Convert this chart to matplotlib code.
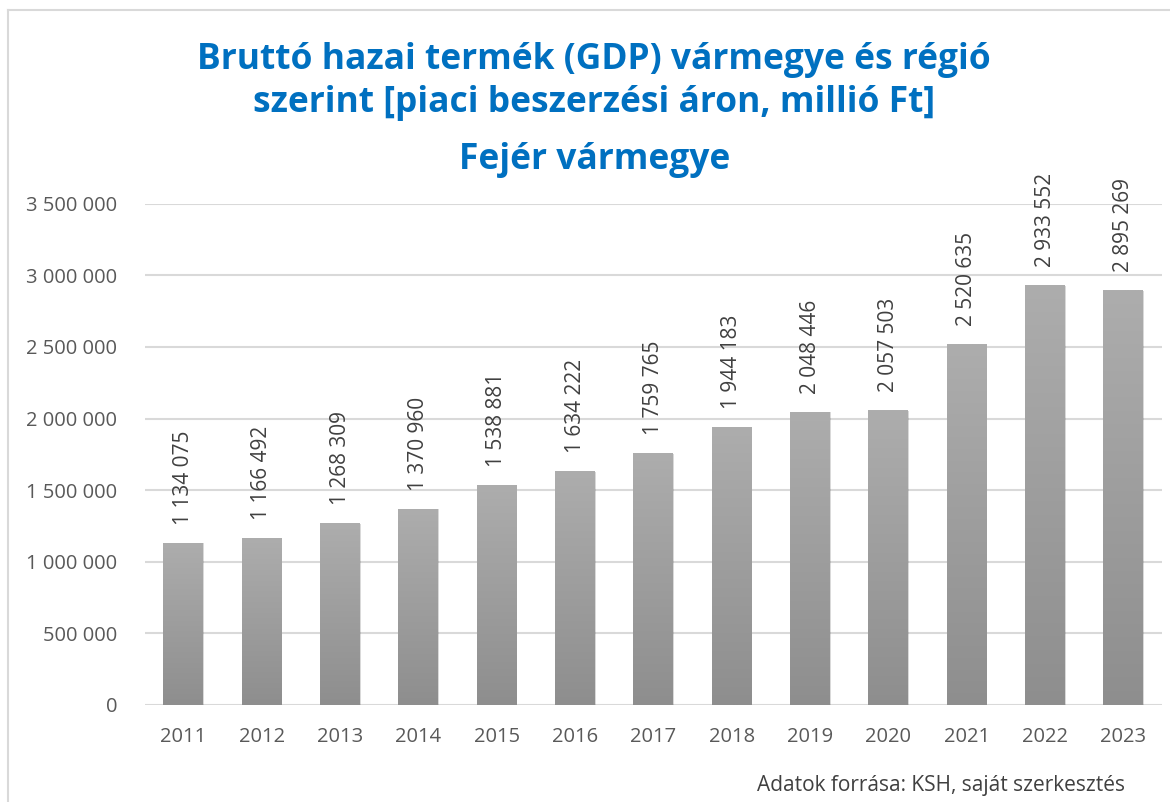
import matplotlib
matplotlib.use("Agg")
import matplotlib.pyplot as plt
import matplotlib.patheffects as pe
import numpy as np
from matplotlib.lines import Line2D

years = ['2011', '2012', '2013', '2014', '2015', '2016', '2017',
         '2018', '2019', '2020', '2021', '2022', '2023']
gdp = [1134075, 1166492, 1268309, 1370960, 1538881, 1634222, 1759765,
       1944183, 2048446, 2057503, 2520635, 2933552, 2895269]
yticks = [0, 500000, 1000000, 1500000, 2000000, 2500000, 3000000, 3500000]
title_lines = ['Bruttó hazai termék (GDP) vármegye és régió',
               'szerint [piaci beszerzési áron, millió Ft]',
               'Fejér vármegye']

def fmt(v):
    return f"{v:,}".replace(",", " ")

plt.rcParams['font.family'] = ['Open Sans', 'DejaVu Sans']

fig = plt.figure(figsize=(11.7, 8.02), dpi=100)
ax = fig.add_axes([0.124, 0.121, 0.869, 0.625])

x = np.arange(len(years))
bars = ax.bar(x, gdp, width=0.51, color='#9e9e9e', zorder=3,
              path_effects=[pe.SimplePatchShadow(offset=(0.5, -0.5), alpha=0.18), pe.Normal()])

# vertical gradient inside each bar
grad = np.linspace(0, 1, 256).reshape(-1, 1)
cmap = matplotlib.colors.LinearSegmentedColormap.from_list('g', ['#8e8e8e', '#adadad'])
for b in bars:
    im = ax.imshow(grad, cmap=cmap, aspect='auto', origin='lower',
                   extent=[b.get_x(), b.get_x() + b.get_width(), 0, b.get_height()],
                   zorder=3.5)
    im.set_clip_path(b)
    ax.text(b.get_x() + b.get_width() / 2, b.get_height() + 125000, fmt(b.get_height()),
            rotation=90, ha='center', va='bottom', fontsize=15, color='#404040', zorder=5)

ax.set_xlim(-0.49, len(years) - 0.51)
ax.set_ylim(0, 3500000)
ax.set_yticks(yticks)
ax.set_yticklabels([fmt(v) for v in yticks])
ax.set_xticks(x)
ax.set_xticklabels(years)
ax.tick_params(length=0, labelsize=14.5, labelcolor='#595959')
ax.tick_params(axis='y', pad=20)
ax.tick_params(axis='x', pad=16)
ax.grid(axis='y', color='#d9d9d9', linewidth=1.5, zorder=0)
for s in ax.spines.values():
    s.set_visible(False)

for txt, ypx in zip(title_lines, [60, 103, 160]):
    fig.text(0.508, 1 - ypx / 802, txt, ha='center', va='center', fontsize=25.5,
             fontweight='bold', color='#0070c0')

fig.text(0.804, 1 - 786 / 802, 'Adatok forrása: KSH, saját szerkesztés',
         ha='center', va='center', fontsize=15, color='#404040')

# outer frame (top and left visible)
fig.add_artist(Line2D([8 / 1170, 1.0], [1 - 10 / 802, 1 - 10 / 802],
                      transform=fig.transFigure, color='#d9d9d9', linewidth=1.5))
fig.add_artist(Line2D([8 / 1170, 8 / 1170], [0, 1 - 10 / 802],
                      transform=fig.transFigure, color='#d9d9d9', linewidth=1.5))

fig.savefig('out.png', dpi=100)
